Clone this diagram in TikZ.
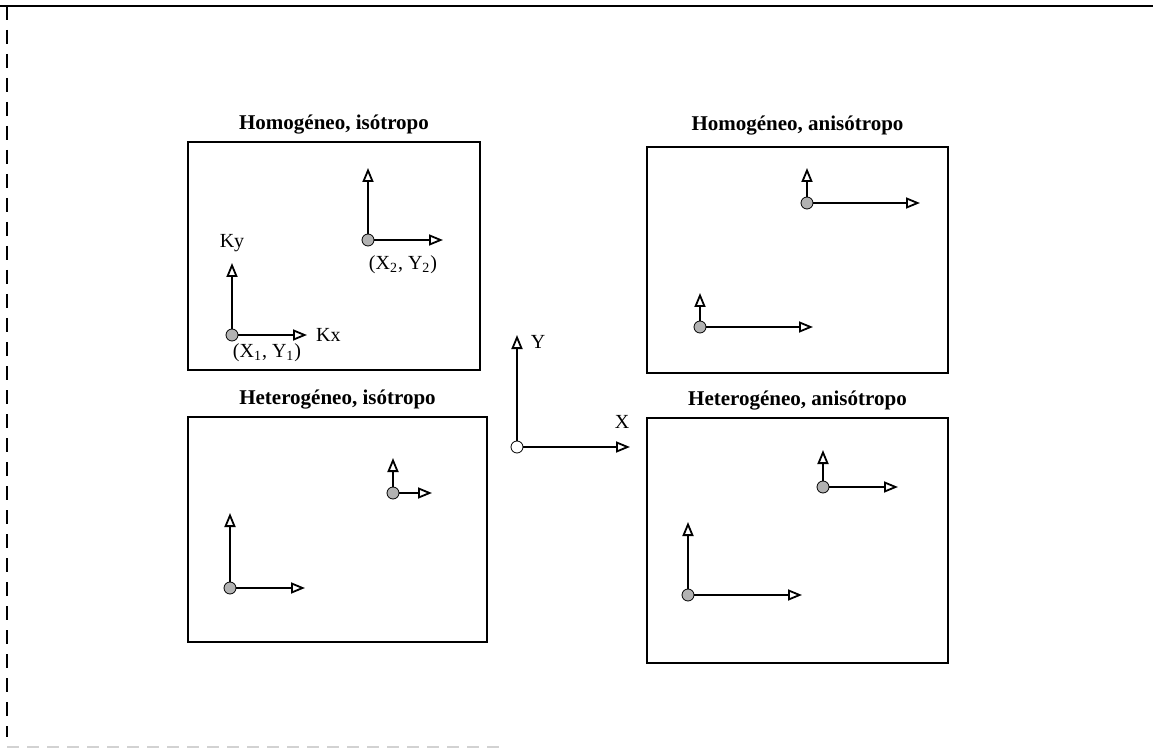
\documentclass[tikz,border=0pt]{standalone}
\usepackage{fontspec}
\setmainfont{Liberation Serif}
\usetikzlibrary{arrows.meta,positioning}
\tikzset{panel/.style={rectangle,draw,thick,inner sep=0pt},
         heading/.style={font=\fontsize{10.5}{12}\selectfont\bfseries,inner sep=2pt},
         origin/.style={circle,draw,fill=gray!60,minimum size=6pt,inner sep=0pt},
         axis/.style={->,line width=0.9pt},
         pageedge/.style={line width=0.6pt}}

\begin{document}
\begin{tikzpicture}[x=0.5pt,y=-0.5pt,>={Triangle[open,length=7pt,width=5.5pt]}]
  \useasboundingbox (0,0) rectangle (1153,749);
  % edges of the scanned page
  \draw[pageedge] (0,6) -- (1153,6);
  \draw[pageedge,dash pattern=on 7pt off 5pt] (7,6) -- (7,737);
  \draw[pageedge,gray!35,dash pattern=on 6pt off 4pt] (7,747) -- (505,747);

  \node (hiso)    [panel,minimum width=146pt,minimum height=114pt]   at (334,256)   {};
  \node (haniso)  [panel,minimum width=150.5pt,minimum height=113pt] at (797.5,260) {};
  \node (heiso)   [panel,minimum width=149.5pt,minimum height=112.5pt] at (337.5,529.5) {};
  \node (heaniso) [panel,minimum width=150.5pt,minimum height=122.5pt] at (797.5,540.5) {};

  \node (thiso)    [heading,above=1.5pt of hiso]    {Homogéneo, isótropo};
  \node (thaniso)  [heading,above=3.5pt of haniso]  {Homogéneo, anisótropo};
  \node (theiso)   [heading,above=1.5pt of heiso]   {Heterogéneo, isótropo};
  \node (theaniso) [heading,above=1.5pt of heaniso] {Heterogéneo, anisótropo};

  % global axes
  \node (o) [origin,fill=white] at (517,447) {};
  \coordinate (oy) at (517,335);
  \coordinate (ox) at (630,447);
  \node (ylab) at (538,342) {Y};
  \node (xlab) at (622,422) {X};

  % homogeneo, isotropo
  \node (a1) [origin] at (232,335) {};
  \coordinate (a1y) at (232,263);
  \coordinate (a1x) at (307,335);
  \node (a2) [origin] at (368,240) {};
  \coordinate (a2y) at (368,168);
  \coordinate (a2x) at (443,240);
  \node (ky) [above=2pt of a1y] {Ky};
  \node (kx) [right=1pt of a1x] {Kx};
  \node (p1) at (267,353) {(X\textsubscript{1}, Y\textsubscript{1})};
  \node (p2) at (403,265) {(X\textsubscript{2}, Y\textsubscript{2})};

  % homogeneo, anisotropo
  \node (b1) [origin] at (700,327) {};
  \coordinate (b1y) at (700,293);
  \coordinate (b1x) at (813,327);
  \node (b2) [origin] at (807,203) {};
  \coordinate (b2y) at (807,168);
  \coordinate (b2x) at (920,203);

  % heterogeneo, isotropo
  \node (c1) [origin] at (230,588) {};
  \coordinate (c1y) at (230,513);
  \coordinate (c1x) at (305,588);
  \node (c2) [origin] at (393,493) {};
  \coordinate (c2y) at (393,458);
  \coordinate (c2x) at (432,493);

  % heterogeneo, anisotropo
  \node (d1) [origin] at (688,595) {};
  \coordinate (d1y) at (688,522);
  \coordinate (d1x) at (802,595);
  \node (d2) [origin] at (823,487) {};
  \coordinate (d2y) at (823,450);
  \coordinate (d2x) at (898,487);

  \path (o)  edge[axis] (oy)  edge[axis] (ox)
        (a1) edge[axis] (a1y) edge[axis] (a1x)
        (a2) edge[axis] (a2y) edge[axis] (a2x)
        (b1) edge[axis] (b1y) edge[axis] (b1x)
        (b2) edge[axis] (b2y) edge[axis] (b2x)
        (c1) edge[axis] (c1y) edge[axis] (c1x)
        (c2) edge[axis] (c2y) edge[axis] (c2x)
        (d1) edge[axis] (d1y) edge[axis] (d1x)
        (d2) edge[axis] (d2y) edge[axis] (d2x);
\end{tikzpicture}
\end{document}
